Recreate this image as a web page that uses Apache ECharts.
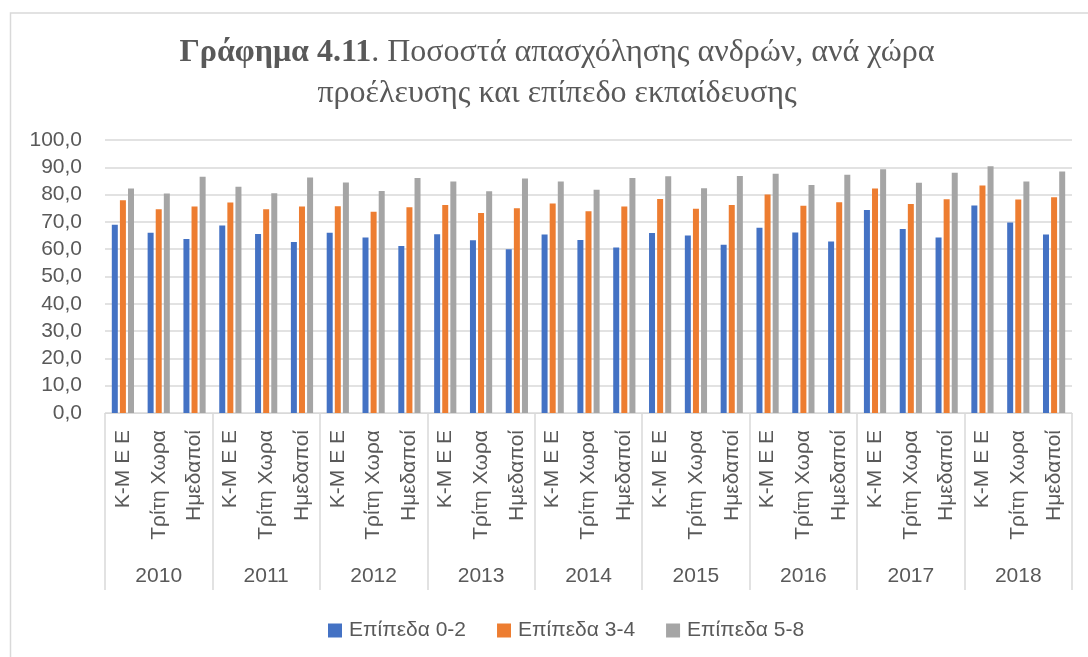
<!DOCTYPE html>
<html>
<head>
<meta charset="utf-8">
<script src="https://cdn.jsdelivr.net/npm/echarts@6/dist/echarts.min.js"></script>
<style>
  html, body { margin: 0; padding: 0; background: #ffffff; }
  #chart { width: 1088px; height: 657px; }
</style>
</head>
<body>
<div id="chart"></div>
<script>
var years = ['2010', '2011', '2012', '2013', '2014', '2015', '2016', '2017', '2018']
var groups = ['Κ-Μ Ε Ε', 'Τρίτη Χωρα', 'Ημεδαποί']
var seriesNames = ['Επίπεδα 0-2', 'Επίπεδα 3-4', 'Επίπεδα 5-8']

// values in year order, each year: Κ-Μ Ε Ε, Τρίτη Χωρα, Ημεδαποί
var level02 = [69.0, 66.0, 63.7, 68.7, 65.6, 62.6, 66.0, 64.3, 61.2, 65.5, 63.3, 60.0, 65.4, 63.4, 60.6,
  65.9, 65.0, 61.6, 67.9, 66.1, 62.8, 74.4, 67.4, 64.3, 76.0, 69.8, 65.4]
var level34 = [77.9, 74.6, 75.6, 77.1, 74.6, 75.6, 75.7, 73.7, 75.4, 76.2, 73.3, 75.0, 76.7, 73.9, 75.6,
  78.4, 74.8, 76.2, 80.0, 75.9, 77.2, 82.2, 76.6, 78.3, 83.3, 78.2, 79.0]
var level58 = [82.2, 80.4, 86.5, 82.9, 80.5, 86.3, 84.4, 81.3, 86.1, 84.8, 81.2, 85.9, 84.8, 81.8, 86.1,
  86.7, 82.3, 86.8, 87.6, 83.5, 87.3, 89.3, 84.3, 88.0, 90.4, 84.8, 88.5]

var colors = ['#4472C4', '#ED7D31', '#A5A5A5']
var textColor = '#595959'
var lineColor = '#d9d9d9'
var sans = 'Liberation Sans'

var categories = []
for (let i = 0; i < years.length; i++) {
  for (let j = 0; j < groups.length; j++) {
    categories.push(groups[j])
  }
}

var myChart = echarts.init(document.getElementById('chart'))

var makeSerie = function (name, values, color) {
  return {
    name: name,
    type: 'bar',
    xAxisIndex: 0,
    barWidth: 6,
    barGap: '35%',
    itemStyle: { color: color },
    data: values
  }
}

var option = {
  animation: false,
  color: colors,
  graphic: [
    {
      type: 'rect',
      shape: { x: 10.5, y: 13, width: 1100, height: 700 },
      style: { fill: null, stroke: lineColor, lineWidth: 1.5 },
      silent: true
    },
    {
      type: 'text',
      x: 557,
      y: 32,
      style: {
        text: '{b|Γράφημα 4.11}{n|. Ποσοστά απασχόλησης ανδρών, ανά χώρα}\n{n|προέλευσης και επίπεδο εκπαίδευσης}',
        align: 'center',
        rich: {
          b: { fontFamily: 'Liberation Serif', fontSize: 32, fontWeight: 'bold', fill: textColor, lineHeight: 41 },
          n: { fontFamily: 'Liberation Serif', fontSize: 32, fill: textColor, lineHeight: 41 }
        }
      }
    }
  ],
  legend: {
    left: 323,
    top: 615,
    itemWidth: 14,
    itemHeight: 14,
    itemGap: 31,
    icon: 'rect',
    textStyle: { color: textColor, fontSize: 21, fontFamily: sans, padding: [0, 0, 0, 2] },
    data: seriesNames
  },
  grid: {
    left: 105,
    right: 16,
    top: 140,
    bottom: 244
  },
  xAxis: [
    {
      type: 'category',
      data: categories,
      axisLine: { lineStyle: { color: lineColor } },
      axisTick: { show: false },
      axisLabel: {
        interval: 0,
        rotate: 90,
        margin: 17,
        color: textColor,
        fontSize: 21,
        fontFamily: sans
      }
    },
    {
      type: 'category',
      position: 'bottom',
      data: years,
      axisLine: { show: false },
      axisTick: { show: true, interval: 0, length: 177, lineStyle: { color: lineColor, width: 1.5 } },
      axisLabel: {
        interval: 0,
        margin: 153,
        color: textColor,
        fontSize: 21,
        fontFamily: sans
      }
    }
  ],
  yAxis: {
    type: 'value',
    min: 0,
    max: 100,
    interval: 10,
    axisLine: { show: false },
    axisTick: { show: false },
    splitLine: { lineStyle: { color: lineColor, width: 1.5 } },
    axisLabel: {
      margin: 23,
      color: textColor,
      fontSize: 21,
      fontFamily: sans,
      formatter: function (v) { return v.toFixed(1).replace('.', ',') }
    }
  },
  series: [
    makeSerie(seriesNames[0], level02, colors[0]),
    makeSerie(seriesNames[1], level34, colors[1]),
    makeSerie(seriesNames[2], level58, colors[2])
  ]
}

myChart.setOption(option)
</script>
</body>
</html>
